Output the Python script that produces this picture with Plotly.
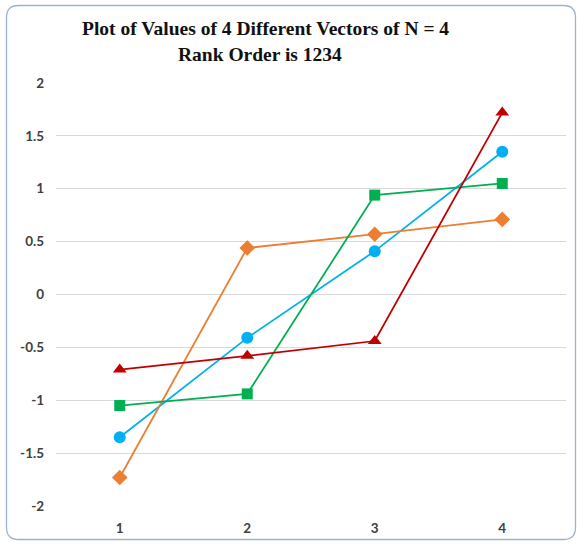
import plotly.graph_objects as go

# Element positions 1..4 and the values of each vector
positions = [1, 2, 3, 4]
vec_blue = [-1.35, -0.41, 0.41, 1.35]
vec_orange = [-1.73, 0.44, 0.57, 0.71]
vec_green = [-1.05, -0.94, 0.94, 1.05]
vec_red = [-0.71, -0.58, -0.44, 1.72]

y_ticks = [-2, -1.5, -1, -0.5, 0, 0.5, 1, 1.5, 2]
y_tick_text = ["-2", "-1.5", "-1", "-0.5", "0", "0.5", "1", "1.5", "2"]

title_lines = ["Plot of Values of 4 Different Vectors of N = 4", "Rank Order is 1234"]

W, H = 578, 544
L, R, T, B = 56, 12, 83, 38

series = [
    (vec_blue, "#00B0F0", "circle", 12),
    (vec_orange, "#ED7D31", "diamond", 12),
    (vec_green, "#00B050", "square", 11),
    (vec_red, "#C00000", "triangle-up", 12),
]

fig = go.Figure()
for vals, color, symbol, size in series:
    fig.add_trace(go.Scatter(
        x=positions, y=vals, mode="lines+markers",
        line=dict(color=color, width=1.8),
        marker=dict(symbol=symbol, size=size, color=color,
                    line=dict(width=0)),
        showlegend=False,
    ))

# rounded frame around the whole chart, in pixel terms converted to paper units
pw, ph = W - L - R, H - T - B
def px(x):
    return (x - L) / pw
def py(y):
    return (H - B - y) / ph
x0, x1, y0, y1, r = 6.5, 575.5, 5.5, 539.5, 12
path = (
    f"M {px(x0 + r)},{py(y0)} L {px(x1 - r)},{py(y0)} "
    f"Q {px(x1)},{py(y0)} {px(x1)},{py(y0 + r)} "
    f"L {px(x1)},{py(y1 - r)} Q {px(x1)},{py(y1)} {px(x1 - r)},{py(y1)} "
    f"L {px(x0 + r)},{py(y1)} Q {px(x0)},{py(y1)} {px(x0)},{py(y1 - r)} "
    f"L {px(x0)},{py(y0 + r)} Q {px(x0)},{py(y0)} {px(x0 + r)},{py(y0)} Z"
)

tick_font = dict(family="Lato, 'Open Sans', sans-serif", size=13.5,
                 color="#404040", weight="bold")
title_font = dict(family="'Liberation Serif', serif", size=19.5,
                  color="#111111", weight="bold")

# two centred title lines
annotations = []
for text, cx, row in zip(title_lines, [265, 260], [28.5, 54]):
    annotations.append(dict(
        text=text, x=px(cx), y=py(row), xref="paper", yref="paper",
        xanchor="center", yanchor="middle", showarrow=False, font=title_font,
    ))

fig.update_layout(
    width=W, height=H,
    margin=dict(l=L, r=R, t=T, b=B),
    paper_bgcolor="white", plot_bgcolor="white",
    annotations=annotations,
    xaxis=dict(
        range=[0.5, 4.5], tickvals=positions,
        ticktext=[str(p) for p in positions],
        showgrid=False, zeroline=False, showline=False, automargin=False,
        ticks="", tickfont=tick_font, ticklabelstandoff=12,
    ),
    yaxis=dict(
        range=[-2, 2], tickvals=y_ticks, ticktext=y_tick_text,
        showgrid=True, gridcolor="#D9D9D9", gridwidth=1,
        zeroline=False, showline=False, ticks="", automargin=False,
        ticklabelstandoff=11, tickfont=tick_font,
    ),
    shapes=[dict(type="path", path=path, xref="paper", yref="paper",
                 line=dict(color="#9DB3C8", width=1.3), layer="below")],
)

fig.write_html("out.html")
